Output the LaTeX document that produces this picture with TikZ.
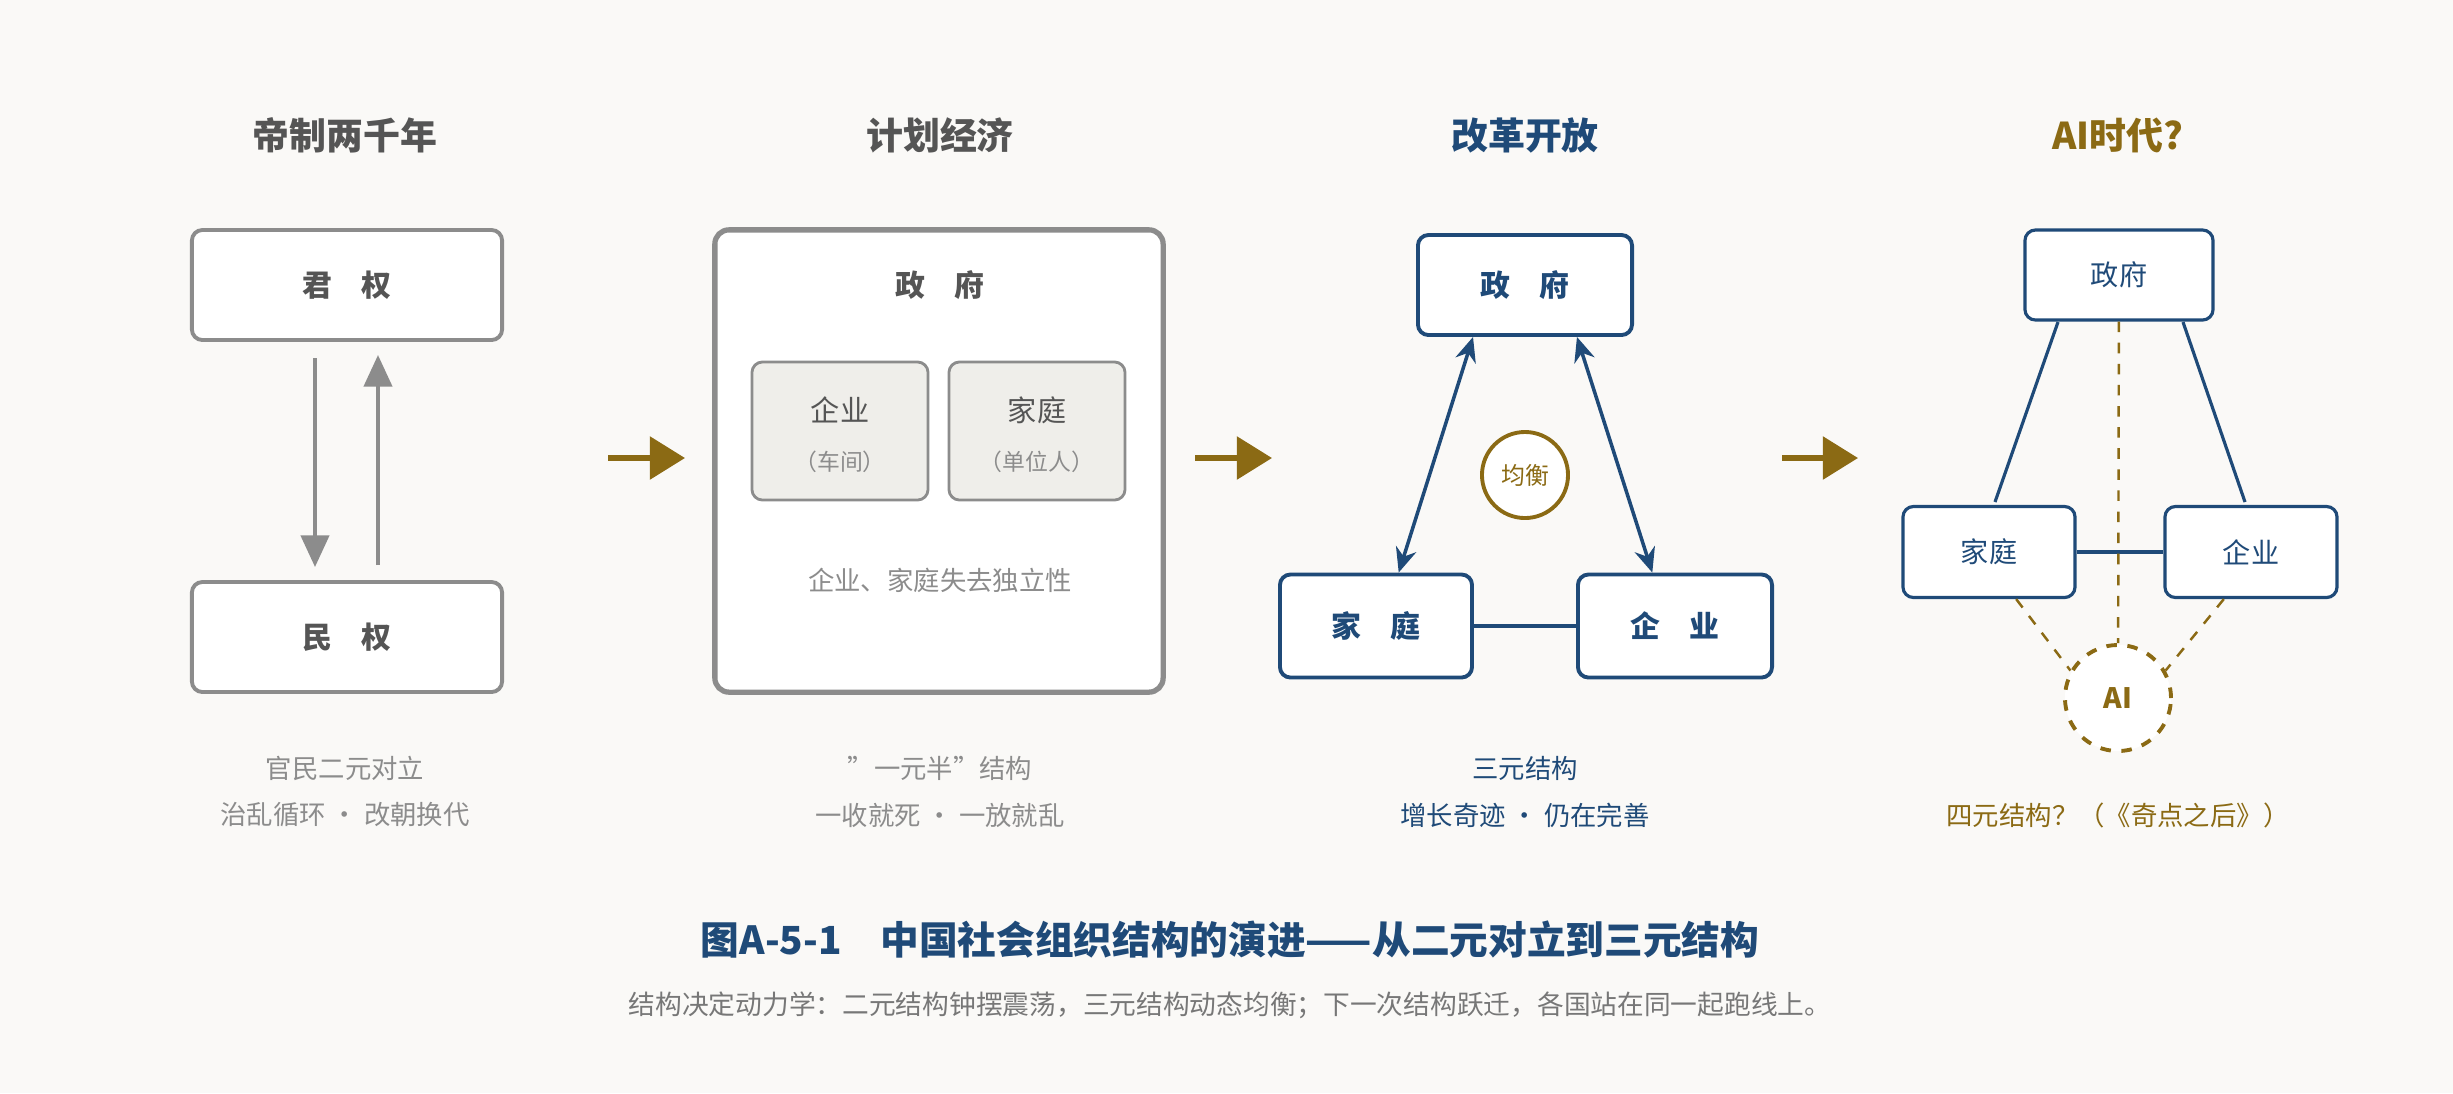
\documentclass[tikz,border=0pt]{standalone}
\usepackage{fontspec}
\setmainfont{Noto Sans CJK SC}
\usetikzlibrary{positioning,arrows.meta}
\definecolor{bgc}{HTML}{FAF9F7}
\definecolor{navy}{HTML}{1F4A78}
\definecolor{gold}{HTML}{8B6A14}
\definecolor{stone}{HTML}{8C8C8C}
\definecolor{ink}{HTML}{555555}
\definecolor{paper}{HTML}{EFEEEA}
\begin{document}
\begin{tikzpicture}
  [x=0.01cm,y=-0.01cm,
    title/.style={font=\bfseries\fontsize{10.5}{12}\selectfont},
    gbox/.style={draw=stone,line width=1.1pt,rounded corners=3pt,fill=white,font=\bfseries\fontsize{8.5}{10}\selectfont,text=ink},
    bbox/.style={draw=navy,line width=1.1pt,rounded corners=3pt,fill=white,font=\bfseries\fontsize{8.5}{10}\selectfont,text=navy},
    lbox/.style={draw=navy,line width=0.9pt,rounded corners=3pt,fill=white,font=\fontsize{8}{10}\selectfont,text=navy},
    note/.style={font=\fontsize{7.5}{9}\selectfont,text=stone},
    stage/.style={-{Triangle[length=10pt,width=12pt]},line width=1.5pt,gold},
  ]
  \fill[bgc] (0,0) rectangle (2453,1093);
  % titles
  \node[title,text=ink] (t1) at (345,135) {帝制两千年};
  \node[title,text=ink] (t2) at (940,135) {计划经济};
  \node[title,text=navy] (t3) at (1525,135) {改革开放};
  \node[title,text=gold] (t4) at (2118,135) {AI时代?};
  % panel 1
  \node[gbox,minimum width=3.1cm,minimum height=1.1cm] (jun) at (347,285) {君\quad 权};
  \node[gbox,minimum width=3.1cm,minimum height=1.1cm] (min) at (347,637) {民\quad 权};
  \draw[-{Triangle[length=9pt,width=8pt]},line width=1.1pt,stone] (315,358) -- (315,567);
  \draw[-{Triangle[length=9pt,width=8pt]},line width=1.1pt,stone] (378,565) -- (378,355);
  \node[note] (n11) at (345,768) {官民二元对立};
  \node[note] (n12) at (345,815) {治乱循环 · 改朝换代};
  % stages
  \coordinate (s1a) at (608,458); \coordinate (s1b) at (685,458);
  \coordinate (s2a) at (1195,458); \coordinate (s2b) at (1272,458);
  \coordinate (s3a) at (1782,458); \coordinate (s3b) at (1858,458);
  \draw[stage] (s1a) -- (s1b);
  \draw[stage] (s2a) -- (s2b);
  \draw[stage] (s3a) -- (s3b);
  % panel 2
  \node[draw=stone,line width=1.5pt,rounded corners=4pt,fill=white,minimum width=4.48cm,minimum height=4.62cm] (gov2) at (939,461) {};
  \node[font=\bfseries\fontsize{8.5}{10}\selectfont,text=ink] (g2) at (940,285) {政\quad 府};
  \node[draw=stone,line width=0.8pt,rounded corners=3pt,fill=paper,minimum width=1.76cm,minimum height=1.38cm] (qy) at (840,431) {};
  \node[draw=stone,line width=0.8pt,rounded corners=3pt,fill=paper,minimum width=1.76cm,minimum height=1.38cm] (jt) at (1037,431) {};
  \node[font=\fontsize{8.3}{10}\selectfont,text=ink] (qy1) at (840,410) {企业};
  \node[note,font=\fontsize{6.5}{8}\selectfont] (qy2) at (840,462) {（车间）};
  \node[font=\fontsize{8.3}{10}\selectfont,text=ink] (jt1) at (1037,410) {家庭};
  \node[note,font=\fontsize{6.5}{8}\selectfont] (jt2) at (1037,462) {（单位人）};
  \node[note] (n20) at (940,580) {企业、家庭失去独立性};
  \node[note] (n21) at (940,768) {"一元半"结构};
  \node[note] (n22) at (940,815) {一收就死 · 一放就乱};
  % panel 3
  \node[bbox,minimum width=2.14cm,minimum height=1.0cm] (gov3) at (1525,285) {政\quad 府};
  \node[bbox,minimum width=1.92cm,minimum height=1.03cm] (fam3) at (1376,626) {家\quad 庭};
  \node[bbox,minimum width=1.94cm,minimum height=1.03cm] (ent3) at (1675,626) {企\quad 业};
  \draw[{Stealth[length=7pt,width=6pt]}-{Stealth[length=7pt,width=6pt]},line width=1pt,navy] (gov3.225) -- (fam3.67);
  \draw[{Stealth[length=7pt,width=6pt]}-{Stealth[length=7pt,width=6pt]},line width=1pt,navy] (gov3.315) -- (ent3.113);
  \draw[line width=0.9pt,navy] (fam3) -- (ent3);
  \node[circle,draw=gold,line width=1.1pt,fill=white,minimum size=0.86cm,text=gold,font=\fontsize{6.8}{8}\selectfont] (bal) at (1525,475) {均衡};
  \node[font=\fontsize{7.5}{9}\selectfont,text=navy] (n31) at (1525,768) {三元结构};
  \node[font=\fontsize{7.5}{9}\selectfont,text=navy] (n32) at (1525,815) {增长奇迹 · 仍在完善};
  % panel 4
  \node[lbox,minimum width=1.88cm,minimum height=0.9cm] (gov4) at (2119,275) {政府};
  \node[lbox,minimum width=1.72cm,minimum height=0.91cm] (fam4) at (1989,552) {家庭};
  \node[lbox,minimum width=1.72cm,minimum height=0.91cm] (ent4) at (2251,552) {企业};
  \node[circle,draw=gold,dashed,line width=1.1pt,fill=white,minimum size=1.06cm,text=gold,font=\bfseries\fontsize{8}{10}\selectfont] (ai) at (2118,698) {AI};
  \coordinate (g4l) at (2058,322);
  \coordinate (g4r) at (2183,322);
  \coordinate (f4) at (1995,502);
  \coordinate (e4) at (2245,502);
  \draw[line width=0.9pt,navy] (g4l) -- (f4);
  \draw[line width=0.9pt,navy] (g4r) -- (e4);
  \draw[line width=0.9pt,navy] (fam4) -- (ent4);
  \draw[gold,dashed,line width=0.7pt] (gov4) -- (ai);
  \draw[gold,dashed,line width=0.7pt] (fam4.-60) -- (ai.150);
  \draw[gold,dashed,line width=0.7pt] (ent4.-120) -- (ai.30);
  \node[font=\fontsize{7.5}{9}\selectfont,text=gold] (n41) at (2118,815) {四元结构？（《奇点之后》）};
  % caption
  \node[font=\bfseries\fontsize{11}{13}\selectfont,text=navy] (cap) at (1230,940) {图A-5-1\quad 中国社会组织结构的演进——从二元对立到三元结构};
  \node[font=\fontsize{7.6}{9}\selectfont,text=ink!80] (sub) at (1230,1005) {结构决定动力学：二元结构钟摆震荡，三元结构动态均衡；下一次结构跃迁，各国站在同一起跑线上。};
\end{tikzpicture}
\end{document}
